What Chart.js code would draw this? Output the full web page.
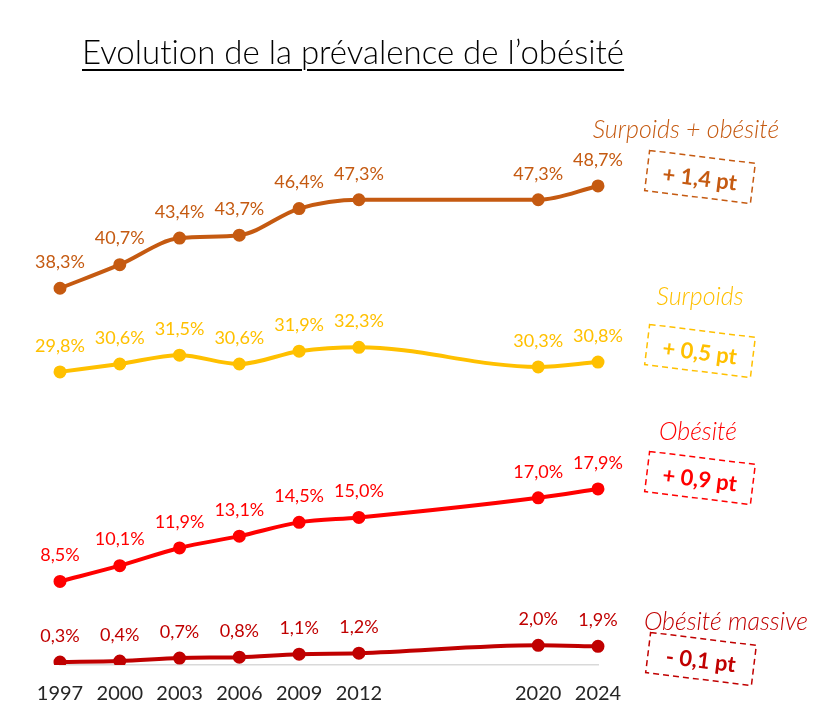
<!DOCTYPE html>
<html>
<head>
<meta charset="utf-8">
<script src="https://cdn.jsdelivr.net/npm/chart.js@4/dist/chart.umd.min.js"></script>
<style>
  body { margin: 0; background: #fff; }
  #wrap { position: relative; width: 838px; height: 723px; font-family: Lato, sans-serif;
          font-variant-ligatures: none; }
  #title { position: absolute; left: 82px; top: 31px; width: 540px; text-align: center;
           font-size: 33px; font-weight: 300; color: #000; text-decoration: underline;
           text-decoration-thickness: 2px; text-underline-offset: 5px; white-space: nowrap; }
  .name { position: absolute; transform: translate(-50%, -50%); font-style: italic;
          font-size: 25px; font-weight: 300; white-space: nowrap; }
  .box { position: absolute; width: 108px; height: 42px; transform: translate(-50%, -50%) rotate(7deg);
         display: flex; align-items: center; justify-content: center;
         font-weight: bold; font-size: 22px; white-space: nowrap; }
  .box svg { position: absolute; left: 0; top: 0; overflow: visible; }
  .box rect { fill: none; stroke: currentColor; stroke-width: 1.5; stroke-dasharray: 6 4; }
</style>
</head>
<body>
<div id="wrap">
  <canvas id="myChart" width="838" height="723"></canvas>
  <div id="title">Evolution de la prévalence de l’obésité</div>
  <div class="name" style="left:686px;top:128px;color:#C55A11">Surpoids + obésité</div>
  <div class="box" style="left:700px;top:177px;color:#C55A11"><svg width="108" height="42"><rect x="0.75" y="0.75" width="106.5" height="40.5"/></svg>+ 1,4 pt</div>
  <div class="name" style="left:700px;top:295px;color:#FFC000">Surpoids</div>
  <div class="box" style="left:700px;top:351px;color:#FFC000"><svg width="108" height="42"><rect x="0.75" y="0.75" width="106.5" height="40.5"/></svg>+ 0,5 pt</div>
  <div class="name" style="left:698px;top:430px;color:#FF0000">Obésité</div>
  <div class="box" style="left:700px;top:478px;color:#FF0000"><svg width="108" height="42"><rect x="0.75" y="0.75" width="106.5" height="40.5"/></svg>+ 0,9 pt</div>
  <div class="name" style="left:726px;top:620px;color:#C00000">Obésité massive</div>
  <div class="box" style="left:701px;top:659px;color:#C00000"><svg width="108" height="42"><rect x="0.75" y="0.75" width="106.5" height="40.5"/></svg>- 0,1 pt</div>
</div>
<script>
// years on the axis (two empty slots between 2012 and 2020)
var years = ['1997', '2000', '2003', '2006', '2009', '2012', '', '', '2020', '2024'];

var surpoidsObesite = [38.3, 40.7, 43.4, 43.7, 46.4, 47.3, null, null, 47.3, 48.7];
var surpoids = [29.8, 30.6, 31.5, 30.6, 31.9, 32.3, null, null, 30.3, 30.8];
var obesite = [8.5, 10.1, 11.9, 13.1, 14.5, 15.0, null, null, 17.0, 17.9];
var obesiteMassive = [0.3, 0.4, 0.7, 0.8, 1.1, 1.2, null, null, 2.0, 1.9];

var names = ['Surpoids + obésité', 'Surpoids', 'Obésité', 'Obésité massive'];
var colors = ['#C55A11', '#FFC000', '#FF0000', '#C00000'];

function fmt(v) {
  return v.toFixed(1).replace('.', ',') + '%';
}

// draw the value above every point
var valueLabels = {
  id: 'valueLabels',
  afterDatasetsDraw: function(chart) {
    var ctx = chart.ctx;
    ctx.save();
    ctx.font = '18px Lato';
    ctx.textAlign = 'center';
    ctx.textBaseline = 'middle';
    chart.data.datasets.forEach(function(ds, i) {
      var meta = chart.getDatasetMeta(i);
      ctx.fillStyle = ds.borderColor;
      meta.data.forEach(function(pt, j) {
        if (ds.data[j] == null) return;
        ctx.fillText(fmt(ds.data[j]), pt.x, pt.y - 26);
      });
    });
    ctx.restore();
  }
};

var allSeries = [surpoidsObesite, surpoids, obesite, obesiteMassive];
var datasets = allSeries.map(function(s, i) {
  return {
    label: names[i],
    data: s,
    borderColor: colors[i],
    backgroundColor: colors[i],
    borderWidth: 4,
    pointRadius: 4.5,
    pointHoverRadius: 4.5,
    cubicInterpolationMode: 'monotone',
    spanGaps: true
  };
});

var ctx = document.getElementById('myChart').getContext('2d');
var chart = new Chart(ctx, {
  type: 'line',
  data: { labels: years, datasets: datasets },
  options: {
    responsive: false,
    animation: false,
    layout: { padding: { left: 60, right: 240, top: 124, bottom: 0 } },
    plugins: { legend: { display: false }, tooltip: { enabled: false } },
    scales: {
      x: {
        grid: { display: false, drawTicks: false },
        border: { display: true, color: '#D9D9D9', width: 1.5 },
        ticks: { color: '#262626', font: { family: 'Lato', size: 20 }, padding: 17, autoSkip: false, maxRotation: 0 }
      },
      y: { display: false, min: 0, max: 55 }
    }
  },
  plugins: [valueLabels]
});
</script>
</body>
</html>
